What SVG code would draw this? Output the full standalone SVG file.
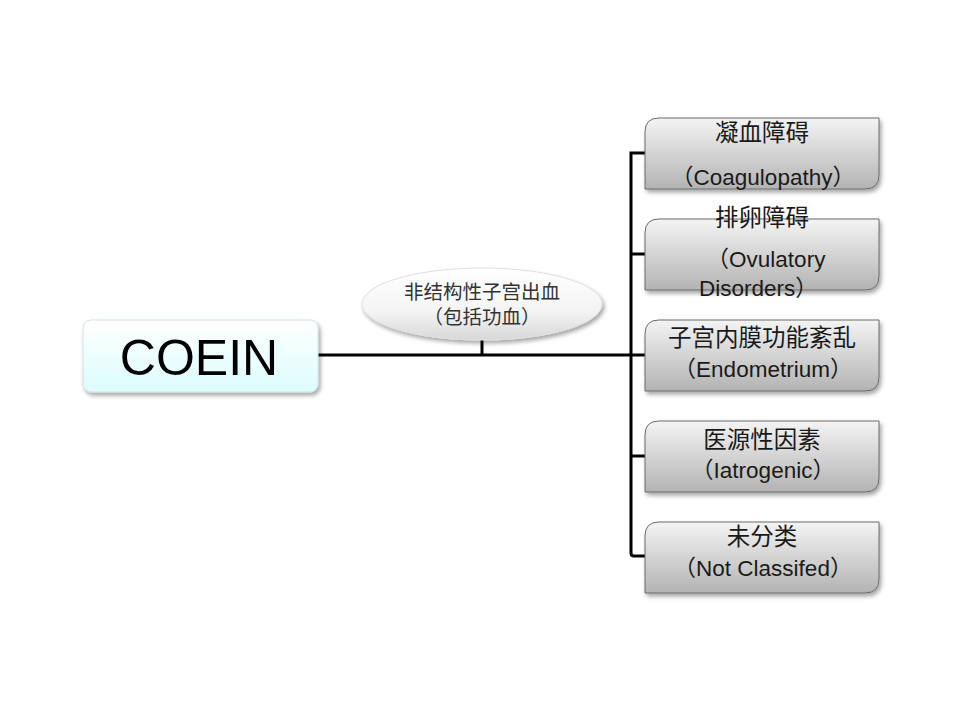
<svg xmlns="http://www.w3.org/2000/svg" width="960" height="720" viewBox="0 0 960 720">
<style>
.t{font-family:"Liberation Sans","Noto Sans CJK SC",sans-serif;fill:#1a1a1a;text-anchor:middle}
.cn{font-size:23.5px}
.en{font-size:22.5px}
.bx{fill:url(#gGray);stroke:#6b6b6b;stroke-width:1;filter:url(#sh)}
.ln{stroke:#000;stroke-width:3;fill:none}
</style>
<defs>
<linearGradient id="gGray" x1="0" y1="0" x2="0" y2="1">
<stop offset="0" stop-color="#f4f4f4"/>
<stop offset="1" stop-color="#b3b3b3"/>
</linearGradient>
<linearGradient id="gCyan" x1="0" y1="0" x2="0" y2="1">
<stop offset="0" stop-color="#ffffff"/>
<stop offset="1" stop-color="#dcfcfd"/>
</linearGradient>
<linearGradient id="gEll" x1="0" y1="0" x2="0" y2="1">
<stop offset="0" stop-color="#ffffff"/>
<stop offset="0.6" stop-color="#f4f4f4"/>
<stop offset="1" stop-color="#d8d8d8"/>
</linearGradient>
<filter id="sh" x="-10%" y="-20%" width="130%" height="150%">
<feDropShadow dx="2" dy="3" stdDeviation="2" flood-color="#000" flood-opacity="0.35"/>
</filter>
<path id="bp" d="M14,0 H234 V57 Q234,71 220,71 H0 V14 Q0,0 14,0 Z"/>
</defs>

<g id="connectors">
<path class="ln" d="M316,355 H631"/>
<path class="ln" d="M482,340 V355"/>
<path class="ln" d="M645,153 H631 V553 Q631,556 634,556 H645"/>
<path class="ln" d="M631,254 H645"/>
<path class="ln" d="M631,355 H645"/>
<path class="ln" d="M631,456 H645"/>
</g>

<g id="coein">
<rect x="83" y="320" width="235" height="72" rx="8" ry="8" fill="url(#gCyan)" stroke="#d0e4e4" stroke-width="1" filter="url(#sh)"/>
<text class="t" x="199" y="375" font-size="50" style="fill:#000">COEIN</text>
</g>

<g id="nonstructural">
<ellipse cx="482" cy="304" rx="120" ry="36" fill="url(#gEll)" stroke="#e0e0e0" stroke-width="1" filter="url(#sh)"/>
<text class="t" x="482" y="299" font-size="19.5" style="fill:#333">非结构性子宫出血</text>
<text class="t" x="482" y="324" font-size="19.5" style="fill:#333">（包括功血）</text>
</g>

<g id="coagulopathy">
<use href="#bp" class="bx" transform="translate(645,118)"/>
<text class="t cn" x="762" y="141">凝血障碍</text>
<text class="t en" x="763" y="185">（Coagulopathy）</text>
</g>

<g id="ovulatory">
<use href="#bp" class="bx" transform="translate(645,219)"/>
<text class="t cn" x="762" y="226">排卵障碍</text>
<text class="t en" x="766" y="267">（Ovulatory</text>
<text class="t en" x="699" y="296" style="text-anchor:start">Disorders）</text>
</g>

<g id="endometrium">
<use href="#bp" class="bx" transform="translate(645,320)"/>
<text class="t cn" x="762" y="346">子宫内膜功能紊乱</text>
<text class="t en" x="763" y="377">（Endometrium）</text>
</g>

<g id="iatrogenic">
<use href="#bp" class="bx" transform="translate(645,421)"/>
<text class="t cn" x="762" y="448">医源性因素</text>
<text class="t en" x="763" y="478">（Iatrogenic）</text>
</g>

<g id="notclassified">
<use href="#bp" class="bx" transform="translate(645,522)"/>
<text class="t cn" x="762" y="545">未分类</text>
<text class="t en" x="763" y="576">（Not Classifed）</text>
</g>
</svg>
